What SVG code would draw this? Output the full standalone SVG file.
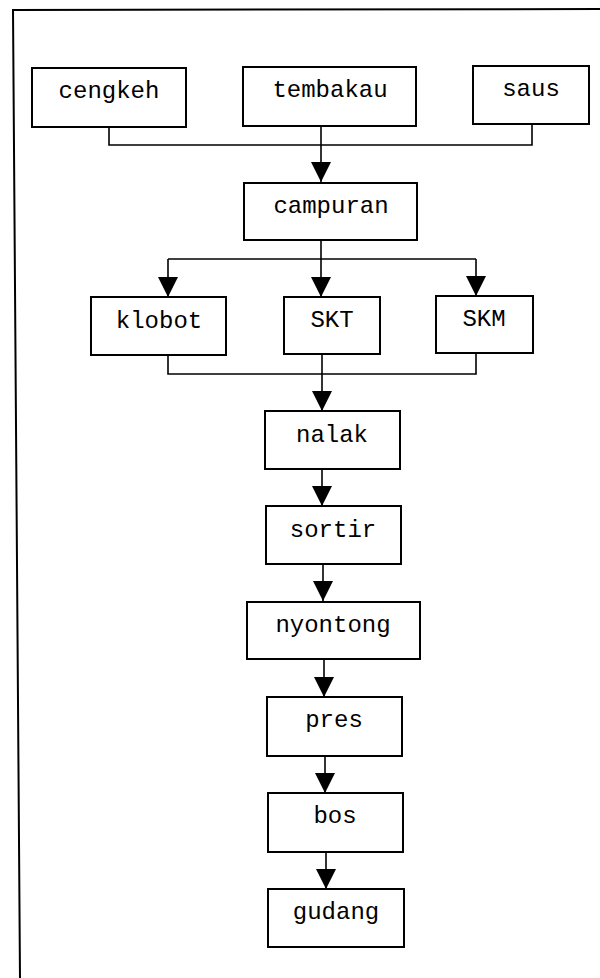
<svg xmlns="http://www.w3.org/2000/svg" width="600" height="978" viewBox="0 0 600 978">
  <style>
    .box { fill: #ffffff; stroke: #000000; stroke-width: 2; }
    .lbl { font-family: "Liberation Mono", "Courier New", monospace; font-size: 24px; fill: #000000; text-anchor: middle; }
    .wire { fill: none; stroke: #000000; stroke-width: 1.6; }
    .frame { fill: none; stroke: #000000; stroke-width: 2; }
  </style>
  <defs>
    <marker id="arrow" viewBox="0 0 20 20" refX="20" refY="10" markerWidth="20" markerHeight="20" markerUnits="userSpaceOnUse" orient="auto">
      <path d="M0,0 L20,10 L0,20 z" fill="#000000"/>
    </marker>
  </defs>
  <rect x="0" y="0" width="600" height="978" fill="#ffffff"/>

  <!-- page frame: top and left rules only -->
  <path class="frame" d="M600,9 L13,10 L20,978"/>

  <!-- connectors -->
  <g id="connectors">
    <path class="wire" d="M109,127 V145 H532 V124"/>
    <path class="wire" d="M321,126 V182" marker-end="url(#arrow)"/>
    <path class="wire" d="M321,240 V297" marker-end="url(#arrow)"/>
    <path class="wire" d="M168,259 H476"/>
    <path class="wire" d="M168,259 V297" marker-end="url(#arrow)"/>
    <path class="wire" d="M476,259 V296" marker-end="url(#arrow)"/>
    <path class="wire" d="M168,355 V374 H476 V353"/>
    <path class="wire" d="M322,354 V411" marker-end="url(#arrow)"/>
    <path class="wire" d="M322,469 V506" marker-end="url(#arrow)"/>
    <path class="wire" d="M323,564 V601" marker-end="url(#arrow)"/>
    <path class="wire" d="M324,659 V697" marker-end="url(#arrow)"/>
    <path class="wire" d="M325,756 V793" marker-end="url(#arrow)"/>
    <path class="wire" d="M326,852 V889" marker-end="url(#arrow)"/>
  </g>

  <g id="cengkeh">
    <rect class="box" x="32" y="68" width="154" height="59"/>
    <text class="lbl" x="109" y="98">cengkeh</text>
  </g>
  <g id="tembakau">
    <rect class="box" x="243" y="67" width="173" height="59"/>
    <text class="lbl" x="330" y="97">tembakau</text>
  </g>
  <g id="saus">
    <rect class="box" x="473" y="66" width="116" height="58"/>
    <text class="lbl" x="531" y="96">saus</text>
  </g>
  <g id="campuran">
    <rect class="box" x="244" y="183" width="173" height="57"/>
    <text class="lbl" x="331" y="213">campuran</text>
  </g>
  <g id="klobot">
    <rect class="box" x="91" y="297" width="135" height="58"/>
    <text class="lbl" x="159" y="328">klobot</text>
  </g>
  <g id="SKT">
    <rect class="box" x="284" y="297" width="96" height="57"/>
    <text class="lbl" x="332" y="327">SKT</text>
  </g>
  <g id="SKM">
    <rect class="box" x="436" y="296" width="97" height="57"/>
    <text class="lbl" x="484" y="326">SKM</text>
  </g>
  <g id="nalak">
    <rect class="box" x="265" y="411" width="135" height="58"/>
    <text class="lbl" x="332" y="442">nalak</text>
  </g>
  <g id="sortir">
    <rect class="box" x="266" y="506" width="135" height="58"/>
    <text class="lbl" x="333" y="537">sortir</text>
  </g>
  <g id="nyontong">
    <rect class="box" x="247" y="602" width="173" height="57"/>
    <text class="lbl" x="333" y="632">nyontong</text>
  </g>
  <g id="pres">
    <rect class="box" x="267" y="697" width="135" height="59"/>
    <text class="lbl" x="334" y="727">pres</text>
  </g>
  <g id="bos">
    <rect class="box" x="268" y="793" width="135" height="59"/>
    <text class="lbl" x="335" y="823">bos</text>
  </g>
  <g id="gudang">
    <rect class="box" x="268" y="889" width="136" height="58"/>
    <text class="lbl" x="336" y="919">gudang</text>
  </g>
</svg>
